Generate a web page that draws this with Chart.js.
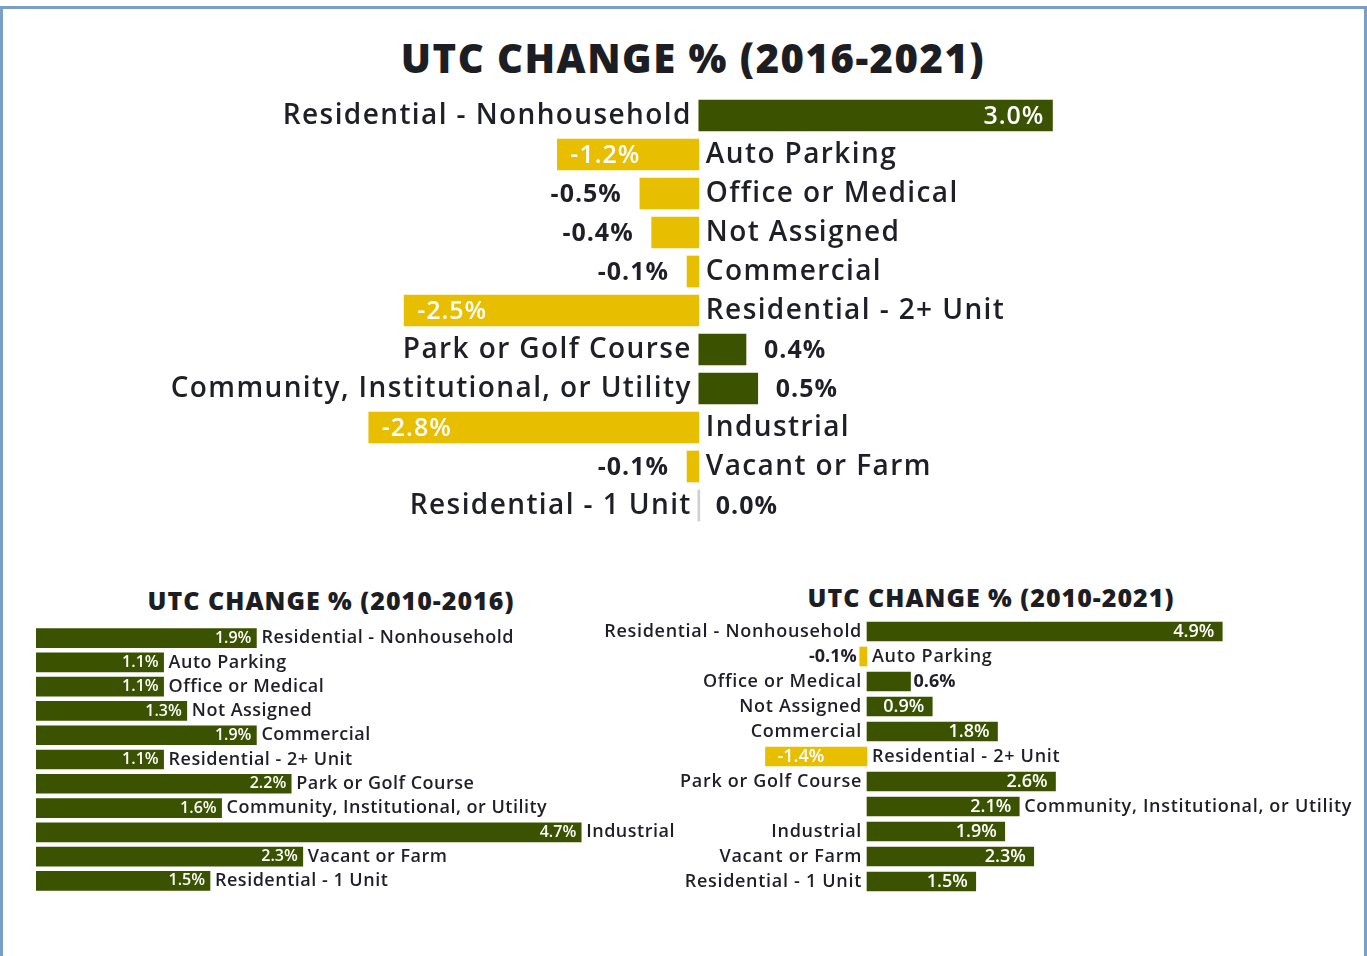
<!DOCTYPE html>
<html>
<head>
<meta charset="utf-8">
<script src="https://cdn.jsdelivr.net/npm/chart.js@4.4.1/dist/chart.umd.min.js"></script>
<style>
  html, body { margin: 0; padding: 0; background: #fff; }
  body { width: 1367px; height: 956px; position: relative; overflow: hidden; font-family: "Open Sans", "DejaVu Sans", sans-serif; }
  .frame { position: absolute; left: 0; top: 6px; width: 1361px; height: 1000px; border: 3px solid #7a9fc4; border-bottom: none; }
  .title { position: absolute; transform: translate(-50%, -50%); white-space: nowrap; color: #1d1d24; font-weight: 800; }
  canvas { position: absolute; }
</style>
</head>
<body>
<div class="frame"></div>
<div class="title" id="t1" style="left:693px; top:57px; font-size:40px; letter-spacing:1.5px;">UTC CHANGE % (2016-2021)</div>
<div class="title" id="t2" style="left:331px; top:600px; font-size:25px; letter-spacing:1px;">UTC CHANGE % (2010-2016)</div>
<div class="title" id="t3" style="left:991px; top:597px; font-size:25px; letter-spacing:1px;">UTC CHANGE % (2010-2021)</div>

<div style="position:absolute;left:100px;top:96px;width:1200px;height:429px;"><canvas id="c1"></canvas></div>
<div style="position:absolute;left:36px;top:626px;width:660px;height:267px;"><canvas id="c2"></canvas></div>
<div style="position:absolute;left:590px;top:619px;width:770px;height:275px;"><canvas id="c3"></canvas></div>

<script>
// ---- DATA ----
const categories = [
  "Residential - Nonhousehold",
  "Auto Parking",
  "Office or Medical",
  "Not Assigned",
  "Commercial",
  "Residential - 2+ Unit",
  "Park or Golf Course",
  "Community, Institutional, or Utility",
  "Industrial",
  "Vacant or Farm",
  "Residential - 1 Unit"
];
const change2016to2021 = [3.0, -1.2, -0.5, -0.4, -0.1, -2.5, 0.4, 0.5, -2.8, -0.1, 0.0];
const change2010to2016 = [1.9, 1.1, 1.1, 1.3, 1.9, 1.1, 2.2, 1.6, 4.7, 2.3, 1.5];
const change2010to2021 = [4.9, -0.1, 0.6, 0.9, 1.8, -1.4, 2.6, 2.1, 1.9, 2.3, 1.5];

// ---- STYLE ----
const GREEN = "#3b5200";
const YELLOW = "#e8be00";
const ZEROC = "#cfcfcf";
const TEXT = "#1f1f28";
const FONT = '"Open Sans", "DejaVu Sans", sans-serif';

function barColors(vals) {
  return vals.map(v => v > 0 ? GREEN : (v < 0 ? YELLOW : ZEROC));
}

const barLabels = {
  id: 'barLabels',
  afterDatasetsDraw(chart, args, o) {
    const ctx = chart.ctx;
    const meta = chart.getDatasetMeta(0);
    const data = chart.data.datasets[0].data;
    const labels = chart.data.labels;
    const zeroX = chart.scales.x.getPixelForValue(0);
    ctx.save();
    ctx.textBaseline = 'middle';
    meta.data.forEach((bar, i) => {
      const v = data[i];
      const txt = v.toFixed(1) + '%';
      const end = bar.x;
      const y = bar.y + (o.yShift || 0);
      const neg = v < 0;
      const len = Math.abs(end - zeroX);
      ctx.font = o.valFont;
      ctx.letterSpacing = o.valSpacing || '0px';
      const w = ctx.measureText(txt).width;
      let outer = end;
      if (len > w + o.inPad * 2) {
        ctx.fillStyle = '#ffffff';
        ctx.font = o.inFont || o.valFont;
        if (neg) { ctx.textAlign = 'left'; ctx.fillText(txt, end + o.inPadNeg, y); }
        else { ctx.textAlign = 'right'; ctx.fillText(txt, end - o.inPad, y); }
      } else {
        ctx.fillStyle = TEXT;
        if (neg) { ctx.textAlign = 'right'; ctx.fillText(txt, end - o.outPad, y); }
        else { ctx.textAlign = 'left'; ctx.fillText(txt, end + o.outPad, y); outer = end + o.outPad + w; }
      }
      ctx.font = o.catFont;
      ctx.letterSpacing = o.catSpacing || '0px';
      ctx.fillStyle = TEXT;
      const after = o.catMode === 'after' || (o.afterIdx || []).includes(i);
      if (after) { ctx.textAlign = 'left'; ctx.fillText(labels[i], outer + o.catPad, y); }
      else if (neg) { ctx.textAlign = 'left'; ctx.fillText(labels[i], zeroX + o.catPad, y); }
      else { ctx.textAlign = 'right'; ctx.fillText(labels[i], zeroX - o.catPad, y); }
    });
    ctx.restore();
  }
};

function makeChart(id, values, xmin, xmax, thickness, labelOpts) {
  return new Chart(document.getElementById(id), {
    type: 'bar',
    data: {
      labels: categories,
      datasets: [{
        data: values,
        backgroundColor: barColors(values),
        borderWidth: 0,
        barThickness: thickness,
        minBarLength: 2
      }]
    },
    options: {
      indexAxis: 'y',
      responsive: true,
      maintainAspectRatio: false,
      animation: false,
      layout: { padding: 0 },
      plugins: { legend: { display: false }, tooltip: { enabled: false }, barLabels: labelOpts },
      scales: {
        x: { display: false, min: xmin, max: xmax },
        y: { display: false }
      }
    },
    plugins: [barLabels]
  });
}

makeChart('c1', change2016to2021, -5.08, 5.1, 31, {
  valFont: '700 25px ' + FONT, inFont: '600 25px ' + FONT, valSpacing: '1px',
  catFont: '600 28px ' + FONT, catSpacing: '1.4px',
  inPad: 8, inPadNeg: 13, outPad: 18, catPad: 7, catMode: 'opposite', yShift: 1
});
makeChart('c2', change2010to2016, 0, 660 / 116, 19, {
  valFont: '600 16px ' + FONT, inFont: '600 16px ' + FONT, valSpacing: '0px',
  catFont: '600 18px ' + FONT, catSpacing: '0.5px',
  inPad: 5, inPadNeg: 8, outPad: 4, catPad: 5, catMode: 'after'
});
makeChart('c3', change2010to2021, -277 / 72.5, 493 / 72.5, 19, {
  valFont: '700 18px ' + FONT, inFont: '600 18px ' + FONT, valSpacing: '0px',
  catFont: '600 18px ' + FONT, catSpacing: '0.7px',
  inPad: 8, inPadNeg: 12, outPad: 3, catPad: 5, catMode: 'opposite', afterIdx: [7]
});
</script>
</body>
</html>
